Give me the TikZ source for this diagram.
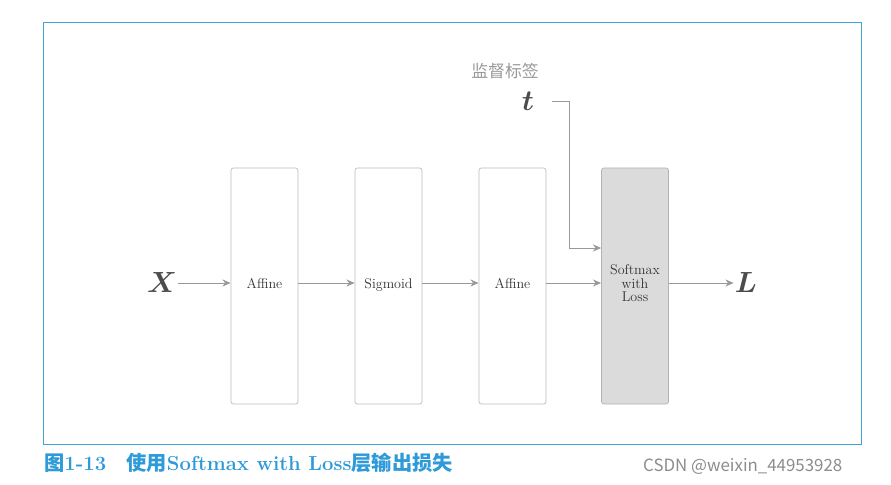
\documentclass[tikz,border=0pt]{standalone}
\usepackage{amsmath,amssymb,bm}
\usepackage{fontspec}
\newfontfamily\cjk{Noto Sans CJK SC}
\usetikzlibrary{arrows.meta}
\definecolor{frameblue}{HTML}{3FA3D6}
\definecolor{capblue}{HTML}{2E9AD8}
\definecolor{boxline}{HTML}{BBBBBB}
\definecolor{arr}{HTML}{999999}
\begin{document}
\begin{tikzpicture}[x=0.03cm,y=-0.03cm,
  layer/.style={draw=boxline,line width=0.6pt,rounded corners=2pt,minimum width=67*0.03cm,minimum height=236*0.03cm,inner sep=0pt,font=\large,text=black!80,align=center},
  conn/.style={draw=arr,-{Stealth[length=7pt,width=6pt]},line width=0.7pt},
  var/.style={font=\Huge,text=black!70,inner sep=1pt}]
\useasboundingbox (0,0) rectangle (891,485);
\draw[frameblue,line width=0.6pt] (43,22) rectangle (861,444);
\node[layer] (a1) at (264.5,286) {\raisebox{5pt}{Affine}};
\node[layer] (s) at (388.5,286) {\raisebox{5pt}{Sigmoid}};
\node[layer] (a2) at (512.5,286) {\raisebox{5pt}{Affine}};
\node[layer,fill=black!14,draw=black!30] (sm) at (635,286) {\raisebox{5pt}{\shortstack{Softmax\\with\\Loss}}};
\node[var] (X) at (162,283) {$\bm{X}$};
\node[var] (L) at (746,283) {$\bm{L}$};
\node[var] (t) at (528,101) {$\bm{t}$};
\node[font=\cjk\Large,text=black!40] (lab) at (505,71) {监督标签};
\coordinate (tend) at (552,101);
\coordinate (bend) at (569,101);
\coordinate (low) at (569,248);
\draw[conn] (X) -- (a1.west|-X);
\draw[conn] (a1.east|-X) -- (s.west|-X);
\draw[conn] (s.east|-X) -- (a2.west|-X);
\draw[conn] (a2.east|-X) -- (sm.west|-X);
\draw[conn] (sm.east|-L) -- (L);
\draw[conn] (tend) -- (bend) -- (low) -- (sm.west|-low);
\node[anchor=west,text=capblue,font=\bfseries\LARGE,inner sep=0pt] (cap) at (44,463) {{\cjk 图}1-13\quad{\cjk 使用}Softmax with Loss{\cjk 层输出损失}};
\node[anchor=west,text=black!45,font=\cjk\Large,inner sep=0pt] (wm) at (643,466) {CSDN @weixin\_44953928};
\end{tikzpicture}
\end{document}
